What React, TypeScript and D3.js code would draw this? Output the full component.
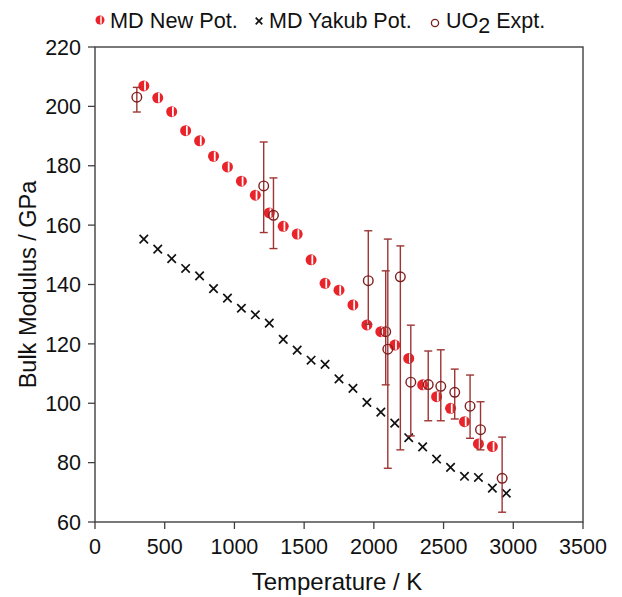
import React from "react";
import * as d3 from "d3";

const tempsNew = [350, 450, 550, 650, 750, 850, 950, 1050, 1150, 1250, 1350, 1450, 1550, 1650, 1750, 1850, 1950, 2050, 2150, 2250, 2350, 2450, 2550, 2650, 2750, 2850];
const newPot = [206.9, 202.9, 198.2, 191.8, 188.4, 183.2, 179.6, 174.8, 170.1, 164.1, 159.6, 157.0, 148.3, 140.4, 138.1, 133.1, 126.4, 124.1, 119.6, 115.1, 106.2, 102.2, 98.3, 93.8, 86.3, 85.4];

const tempsYakub = [350, 450, 550, 650, 750, 850, 950, 1050, 1150, 1250, 1350, 1450, 1550, 1650, 1750, 1850, 1950, 2050, 2150, 2250, 2350, 2450, 2550, 2650, 2750, 2850, 2950];
const yakubPot = [155.3, 151.9, 148.7, 145.4, 142.9, 138.6, 135.4, 132.0, 129.8, 127.0, 121.5, 117.9, 114.5, 113.1, 108.2, 105.0, 100.3, 97.0, 93.3, 88.4, 85.3, 81.2, 78.4, 75.4, 75.0, 71.4, 69.7];

const tempsExpt = [300, 1210, 1280, 1960, 2085, 2100, 2190, 2265, 2390, 2480, 2580, 2690, 2765, 2920];
const exptVal = [203.1, 173.2, 163.3, 141.3, 124.1, 118.2, 142.6, 107.1, 106.3, 105.7, 103.7, 99.0, 91.1, 74.7];
const exptHi = [206.4, 188.0, 175.9, 158.1, 144.6, 155.3, 153.0, 126.3, 117.6, 118.0, 111.5, 109.5, 100.5, 88.6];
const exptLo = [198.1, 157.5, 152.1, 126.6, 106.2, 78.1, 84.3, 89.0, 94.1, 94.1, 94.7, 88.2, 84.3, 63.3];

const xTicks = [0, 500, 1000, 1500, 2000, 2500, 3000, 3500];
const yTicks = [60, 80, 100, 120, 140, 160, 180, 200, 220];

const W = 622;
const H = 597;
const L = 95, R = 583, T = 47, B = 522;
const FONT = "'Liberation Sans', Arial, sans-serif";
const RED = "#e8242a";
const EXPT = "#7d1e1e";
const BAR = "#9e3434";
const AXIS = "#404040";

function HalfCircle({ cx, cy, r }: { cx: number; cy: number; r: number }) {
  return (
    <g>
      <circle cx={cx} cy={cy} r={r} fill={RED} />
      <line x1={cx + r * 0.22} x2={cx + r * 0.22} y1={cy - r * 0.85} y2={cy + r * 0.85} stroke="#ffffff" strokeWidth={r * 0.32} />
    </g>
  );
}

function Cross({ cx, cy, s }: { cx: number; cy: number; s: number }) {
  return (
    <path d={`M${cx - s},${cy - s}L${cx + s},${cy + s}M${cx - s},${cy + s}L${cx + s},${cy - s}`} stroke="#111" strokeWidth={1.7} fill="none" />
  );
}

export default function App() {
  const x = d3.scaleLinear().domain([0, 3500]).range([L, R]);
  const y = d3.scaleLinear().domain([60, 220]).range([B, T]);

  return (
    <svg width={W} height={H} style={{ position: "absolute", left: 0, top: 0, background: "#fff" }} fontFamily={FONT}>
      {/* legend */}
      <HalfCircle cx={100} cy={20} r={4.5} />
      <text x={110} y={28} fontSize={21.7} fill="#111">MD New Pot.</text>
      <Cross cx={259} cy={21} s={3.3} />
      <text x={269} y={28} fontSize={21.5} fill="#111">MD Yakub Pot.</text>
      <circle cx={435} cy={23} r={3.6} fill="none" stroke={EXPT} strokeWidth={1.3} />
      <text x={446} y={28} fontSize={21.5} fill="#111">
        UO<tspan dy={5}>2</tspan><tspan dy={-5}> Expt.</tspan>
      </text>

      {/* frame */}
      <rect x={L} y={T} width={R - L} height={B - T} fill="none" stroke={AXIS} strokeWidth={1.4} />

      {/* x ticks */}
      {xTicks.map((t) => (
        <g key={"xt" + t}>
          <line x1={x(t)} x2={x(t)} y1={B} y2={B + 7} stroke={AXIS} strokeWidth={1.3} />
          <text x={x(t)} y={554} fontSize={21.5} textAnchor="middle" fill="#111">{t}</text>
        </g>
      ))}
      {/* y ticks */}
      {yTicks.map((t) => (
        <g key={"yt" + t}>
          <line x1={L - 7} x2={L} y1={y(t)} y2={y(t)} stroke={AXIS} strokeWidth={1.3} />
          <text x={81} y={y(t)} dy="0.36em" fontSize={21.5} textAnchor="end" fill="#111">{t}</text>
        </g>
      ))}

      <text x={(L + R) / 2 - 2} y={590} fontSize={24} textAnchor="middle" fill="#111">Temperature / K</text>
      <text transform={`translate(36,${(T + B) / 2}) rotate(-90)`} fontSize={23.5} textAnchor="middle" fill="#111">Bulk Modulus / GPa</text>

      {/* MD new pot */}
      {tempsNew.map((t, i) => (
        <HalfCircle key={"n" + i} cx={x(t)} cy={y(newPot[i])} r={5.5} />
      ))}
      {/* Yakub */}
      {tempsYakub.map((t, i) => (
        <Cross key={"y" + i} cx={x(t)} cy={y(yakubPot[i])} s={4.2} />
      ))}
      {/* Expt */}
      {tempsExpt.map((t, i) => {
        const cx = x(t);
        return (
          <g key={"e" + i}>
            <line x1={cx} x2={cx} y1={y(exptHi[i])} y2={y(exptLo[i])} stroke={BAR} strokeWidth={1.4} />
            <line x1={cx - 4} x2={cx + 4} y1={y(exptHi[i])} y2={y(exptHi[i])} stroke={BAR} strokeWidth={1.4} />
            <line x1={cx - 4} x2={cx + 4} y1={y(exptLo[i])} y2={y(exptLo[i])} stroke={BAR} strokeWidth={1.4} />
            <circle cx={cx} cy={y(exptVal[i])} r={4.8} fill="none" stroke={EXPT} strokeWidth={1.4} />
          </g>
        );
      })}
    </svg>
  );
}
